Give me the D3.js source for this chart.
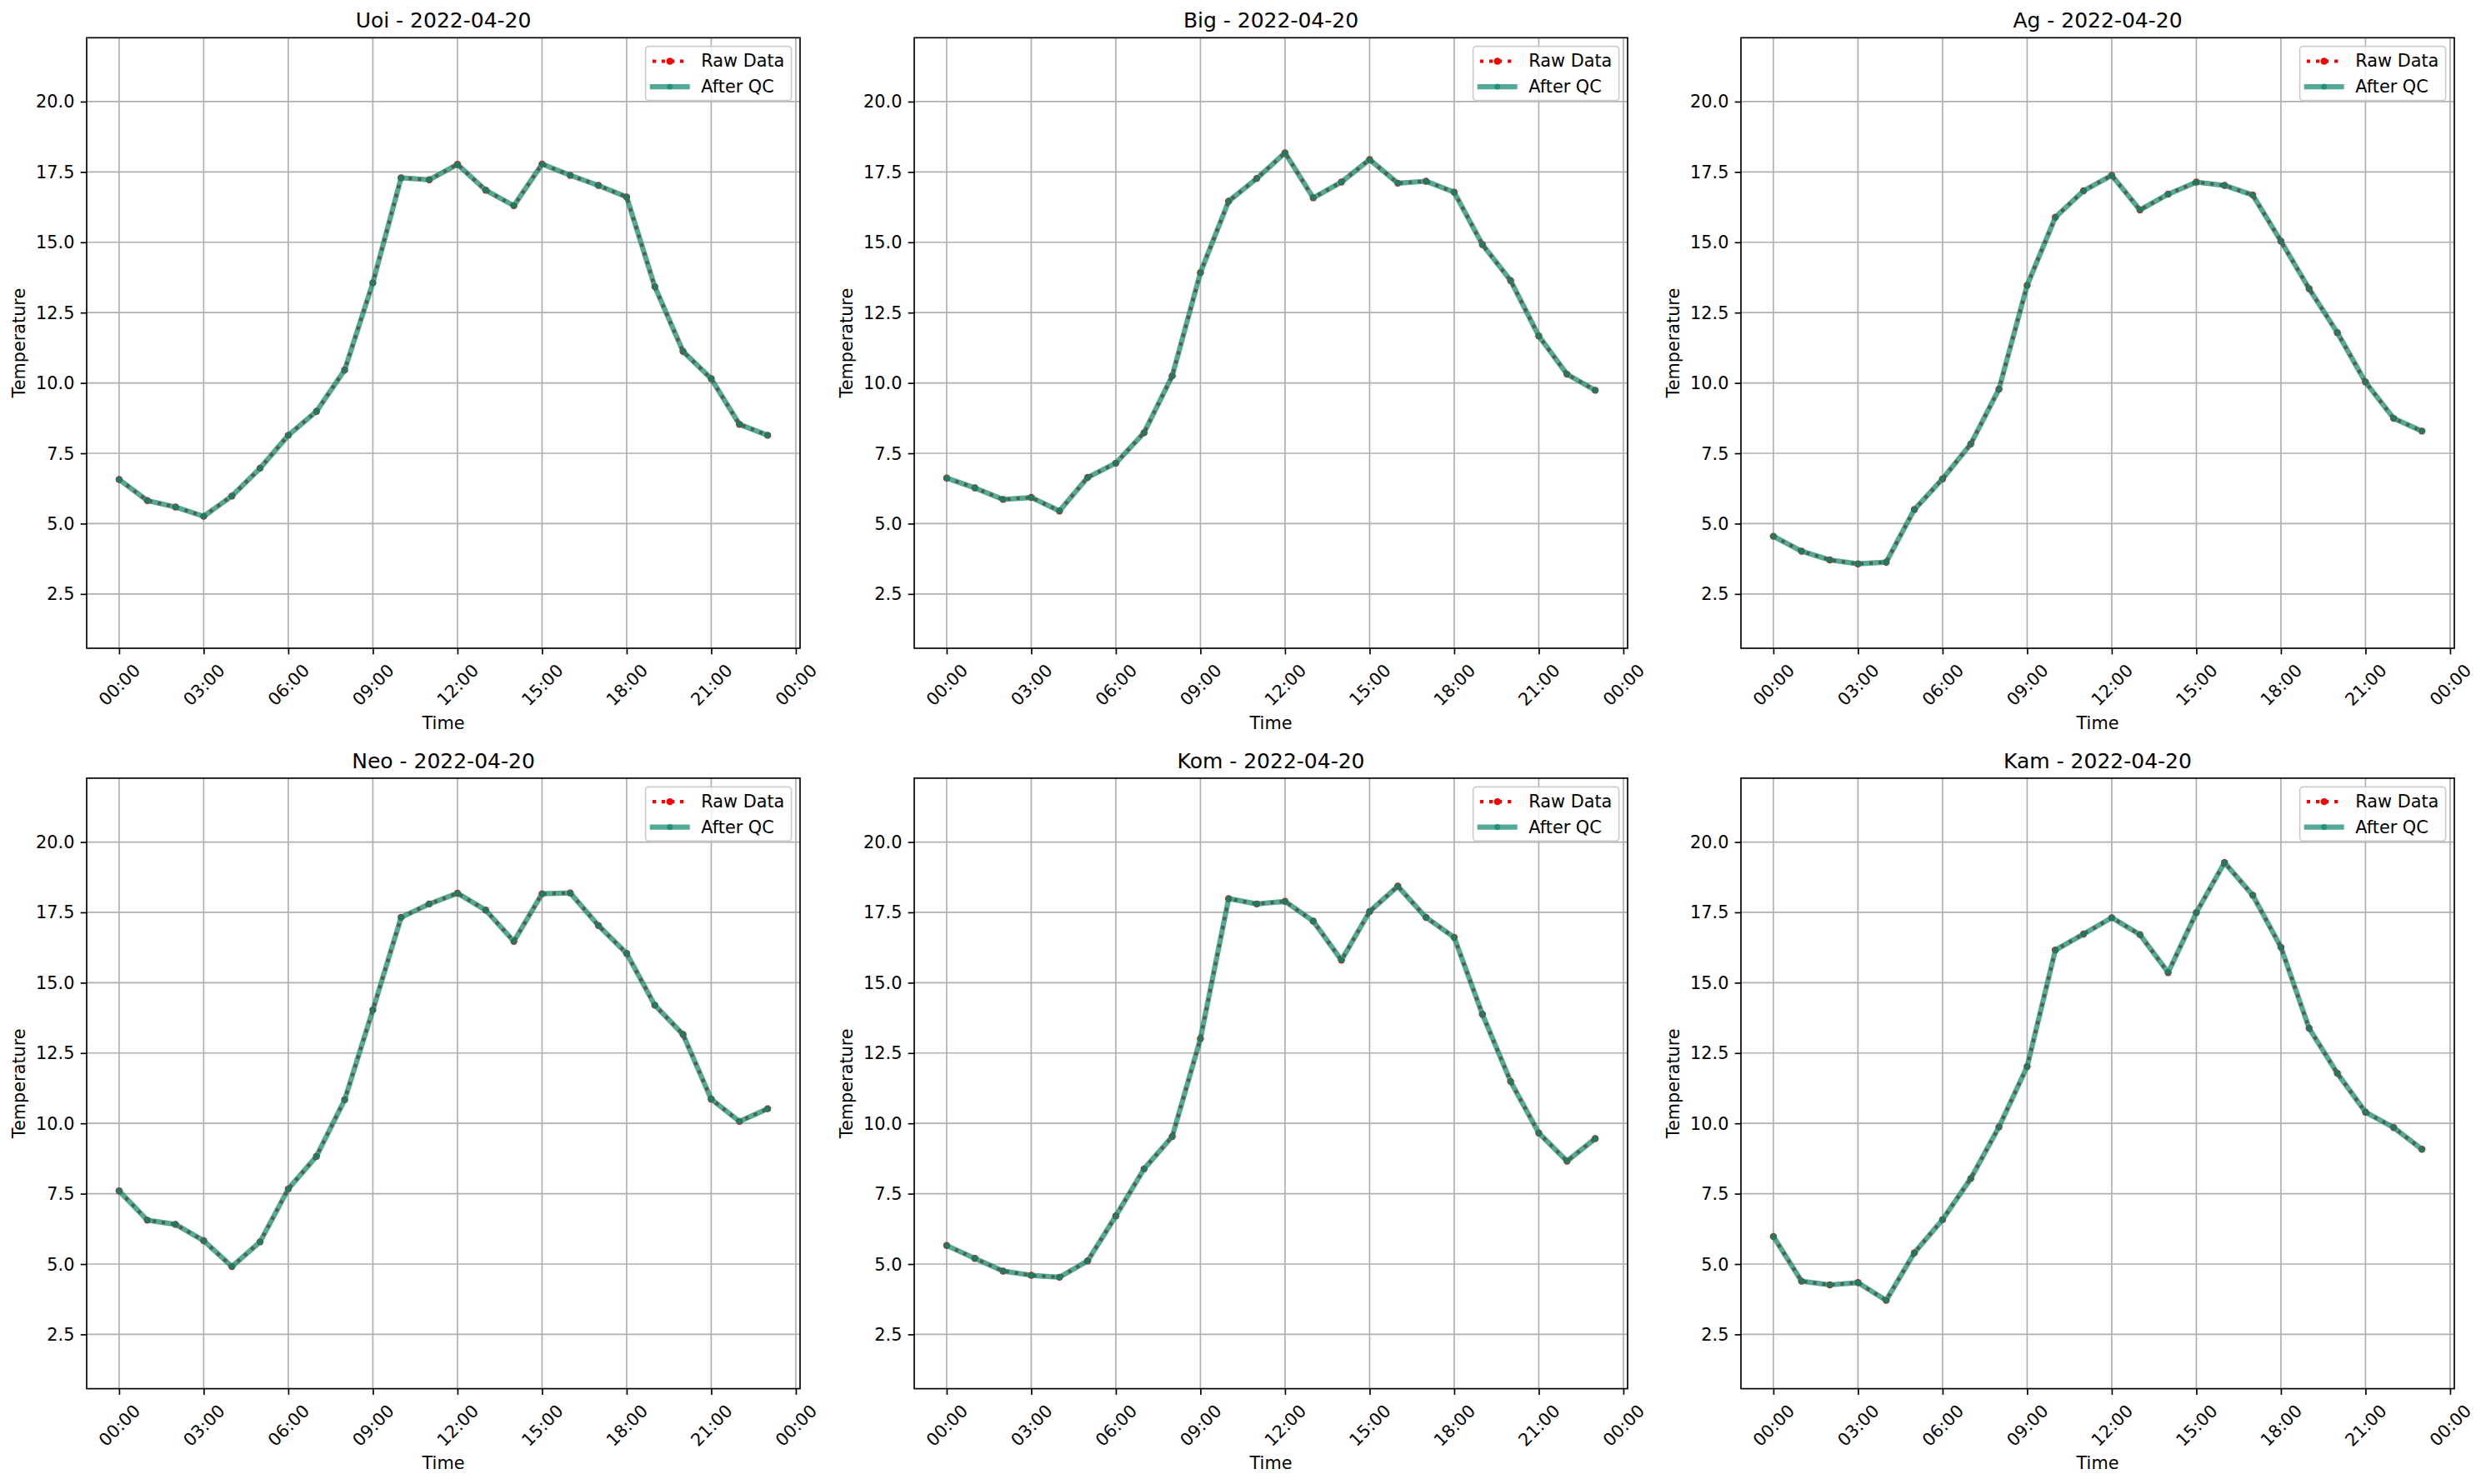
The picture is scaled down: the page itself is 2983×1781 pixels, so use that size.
<!DOCTYPE html>
<html>
<head>
<meta charset="utf-8">
<script src="https://cdn.jsdelivr.net/npm/d3@7"></script>
<style>
  html, body { margin: 0; padding: 0; background: #ffffff; }
  svg { display: block; }
  text { font-family: "DejaVu Sans", sans-serif; fill: #000; }
</style>
</head>
<body>
<div id="chart"></div>
<script>
// ---------------- DATA ----------------
const stations = ["Uoi", "Big", "Ag", "Neo", "Kom", "Kam"];
const dateLabel = "2022-04-20";
const hoursOfDay = [0,1,2,3,4,5,6,7,8,9,10,11,12,13,14,15,16,17,18,19,20,21,22,23];

const uoiRaw = [6.57,5.82,5.59,5.26,5.98,6.97,8.14,8.99,10.46,13.56,17.29,17.22,17.77,16.85,16.30,17.78,17.38,17.02,16.61,13.42,11.12,10.15,8.53,8.14];
const bigRaw = [6.62,6.27,5.86,5.93,5.45,6.64,7.15,8.23,10.25,13.92,16.46,17.27,18.18,16.58,17.14,17.94,17.10,17.17,16.78,14.92,13.64,11.67,10.31,9.74];
const agRaw  = [4.55,4.02,3.71,3.57,3.63,5.50,6.59,7.83,9.78,13.47,15.89,16.83,17.38,16.15,16.71,17.14,17.02,16.68,15.04,13.35,11.79,10.03,8.74,8.29];
const neoRaw = [7.60,6.56,6.41,5.83,4.91,5.79,7.67,8.83,10.84,14.03,17.32,17.80,18.18,17.58,16.47,18.16,18.19,17.03,16.04,14.20,13.16,10.86,10.07,10.52];
const komRaw = [5.66,5.20,4.75,4.60,4.53,5.11,6.71,8.38,9.53,13.01,17.99,17.80,17.89,17.19,15.80,17.53,18.43,17.32,16.61,13.88,11.49,9.66,8.66,9.46];
const kamRaw = [5.98,4.39,4.26,4.34,3.71,5.40,6.58,8.04,9.87,12.02,16.16,16.73,17.31,16.71,15.36,17.49,19.27,18.11,16.26,13.38,11.78,10.40,9.85,9.08];

// After QC values (identical to the raw values in this figure)
const uoiQC = uoiRaw.slice();
const bigQC = bigRaw.slice();
const agQC  = agRaw.slice();
const neoQC = neoRaw.slice();
const komQC = komRaw.slice();
const kamQC = kamRaw.slice();

const rawSeries = [uoiRaw, bigRaw, agRaw, neoRaw, komRaw, kamRaw];
const qcSeries  = [uoiQC, bigQC, agQC, neoQC, komQC, kamQC];

const yTickValues = [2.5, 5.0, 7.5, 10.0, 12.5, 15.0, 17.5, 20.0];
const legendLabels = ["Raw Data", "After QC"];
const xLabel = "Time";
const yLabel = "Temperature";

// ---------------- LAYOUT ----------------
const W = 2983, H = 1781;
const colLeft = [104, 1097, 2089];
const rowTop = [45.3, 933.9];
const pw = 856, ph = 732.7;

const RED = "#ff0000";
const GREEN = "#0a8769";
const GRID = "#b0b0b0";

const svg = d3.select("#chart").append("svg")
  .attr("width", W).attr("height", H)
  .attr("viewBox", `0 0 ${W} ${H}`);
svg.append("rect").attr("width", W).attr("height", H).attr("fill", "#fff");

// shared y domain: data range padded by 3 units
const allVals = rawSeries.flat().concat(qcSeries.flat());
const yMin = d3.min(allVals) - 3, yMax = d3.max(allVals) + 3;

const base = Date.UTC(2022, 3, 20, 0, 0, 0);
const hourMs = 3600 * 1000;
const toDate = h => new Date(base + h * hourMs);
const fmtTime = d3.utcFormat("%H:%M");

stations.forEach((name, i) => {
  const col = i % 3, row = Math.floor(i / 3);
  const left = colLeft[col], top = rowTop[row];
  const g = svg.append("g").attr("transform", `translate(${left},${top})`);

  const x = d3.scaleUtc()
    .domain([toDate(-1.15), toDate(24.15)])
    .range([0, pw]);
  const y = d3.scaleLinear().domain([yMin, yMax]).range([ph, 0]);

  const xTicks = x.ticks(d3.utcHour.every(3));

  // grid
  const grid = g.append("g");
  xTicks.forEach(t => {
    grid.append("line")
      .attr("x1", x(t)).attr("x2", x(t)).attr("y1", 0).attr("y2", ph)
      .attr("stroke", GRID).attr("stroke-width", 1.67);
  });
  yTickValues.forEach(v => {
    grid.append("line")
      .attr("x1", 0).attr("x2", pw).attr("y1", y(v)).attr("y2", y(v))
      .attr("stroke", GRID).attr("stroke-width", 1.67);
  });

  // x axis
  const xAxis = g.append("g").attr("transform", `translate(0,${ph})`)
    .call(d3.axisBottom(x).tickValues(xTicks).tickFormat(fmtTime).tickSize(7.3).tickPadding(7.3));
  xAxis.select(".domain").remove();
  xAxis.selectAll(".tick line").attr("stroke", "#000").attr("stroke-width", 1.67);
  xAxis.selectAll(".tick text")
    .attr("font-size", 20.8)
    .attr("font-family", "DejaVu Sans")
    .attr("text-anchor", "middle")
    .attr("dominant-baseline", "central")
    .attr("dy", null)
    .attr("y", 0)
    .attr("transform", "translate(0,44.2) rotate(-45)");

  // y axis
  const yAxis = g.append("g")
    .call(d3.axisLeft(y).tickValues(yTickValues).tickFormat(d3.format(".1f")).tickSize(7.3).tickPadding(7.3));
  yAxis.select(".domain").remove();
  yAxis.selectAll(".tick line").attr("stroke", "#000").attr("stroke-width", 1.67);
  yAxis.selectAll(".tick text")
    .attr("font-size", 20.8)
    .attr("font-family", "DejaVu Sans")
    .attr("dy", null)
    .attr("dominant-baseline", "central");

  // data
  const raw = rawSeries[i], qc = qcSeries[i];
  const line = d3.line().x((d, k) => x(toDate(hoursOfDay[k]))).y(d => y(d));

  const clipId = "clip" + i;
  g.append("clipPath").attr("id", clipId)
    .append("rect").attr("width", pw).attr("height", ph);
  const plot = g.append("g").attr("clip-path", `url(#${clipId})`);

  plot.append("path").datum(raw)
    .attr("d", line)
    .attr("fill", "none")
    .attr("stroke", RED)
    .attr("stroke-width", 4.17)
    .attr("stroke-dasharray", "4.17,6.88")
    .attr("stroke-linejoin", "round")
    .attr("stroke-linecap", "butt");
  plot.selectAll(".rawpt").data(raw).enter().append("circle")
    .attr("cx", (d, k) => x(toDate(hoursOfDay[k])))
    .attr("cy", d => y(d))
    .attr("r", 4.2)
    .attr("fill", RED);

  plot.append("path").datum(qc)
    .attr("d", line)
    .attr("fill", "none")
    .attr("stroke", GREEN)
    .attr("stroke-opacity", 0.7)
    .attr("stroke-width", 6.25)
    .attr("stroke-linejoin", "round")
    .attr("stroke-linecap", "square");
  plot.selectAll(".qcpt").data(qc).enter().append("circle")
    .attr("cx", (d, k) => x(toDate(hoursOfDay[k])))
    .attr("cy", d => y(d))
    .attr("r", 3.6)
    .attr("fill", GREEN)
    .attr("fill-opacity", 0.7);

  // spines
  g.append("rect").attr("x", 0).attr("y", 0).attr("width", pw).attr("height", ph)
    .attr("fill", "none").attr("stroke", "#000").attr("stroke-width", 1.67);

  // title
  g.append("text")
    .attr("x", pw / 2).attr("y", -12.3)
    .attr("text-anchor", "middle")
    .attr("font-size", 25)
    .text(`${name} - ${dateLabel}`);

  // axis labels
  g.append("text")
    .attr("x", pw / 2).attr("y", ph + 96.6)
    .attr("text-anchor", "middle")
    .attr("font-size", 20.8)
    .text(xLabel);
  g.append("text")
    .attr("transform", `translate(-81.5,${ph / 2}) rotate(-90)`)
    .attr("text-anchor", "middle")
    .attr("dominant-baseline", "central")
    .attr("font-size", 20.8)
    .text(yLabel);

  // legend
  const lg = g.append("g");
  const texts = legendLabels.map(l => lg.append("text").attr("font-size", 20.8).attr("dominant-baseline", "central").text(l));
  const tw = d3.max(texts, t => t.node().getComputedTextLength());
  const pad = 8.3, hl = 41.7, htp = 16.7;
  const bw = pad + hl + htp + tw + pad, bh = 65;
  const bx = pw - 10.4 - bw, by = 10.4;
  lg.insert("rect", "text")
    .attr("x", bx).attr("y", by).attr("width", bw).attr("height", bh)
    .attr("rx", 4).attr("ry", 4)
    .attr("fill", "#fff").attr("fill-opacity", 0.8)
    .attr("stroke", "#cccccc").attr("stroke-width", 1.67);
  const rowsY = [by + 17.8, by + 48.3];
  const hx0 = bx + pad, hx1 = bx + pad + hl;
  texts.forEach((t, k) => t.attr("x", hx1 + htp).attr("y", rowsY[k]));
  lg.append("line").attr("x1", hx0).attr("x2", hx1).attr("y1", rowsY[0]).attr("y2", rowsY[0])
    .attr("stroke", RED).attr("stroke-width", 4.17).attr("stroke-dasharray", "4.17,6.88");
  lg.append("circle").attr("cx", (hx0 + hx1) / 2).attr("cy", rowsY[0]).attr("r", 4.2).attr("fill", RED);
  lg.append("line").attr("x1", hx0).attr("x2", hx1).attr("y1", rowsY[1]).attr("y2", rowsY[1])
    .attr("stroke", GREEN).attr("stroke-opacity", 0.7).attr("stroke-width", 6.25).attr("stroke-linecap", "square");
  lg.append("circle").attr("cx", (hx0 + hx1) / 2).attr("cy", rowsY[1]).attr("r", 3.6)
    .attr("fill", GREEN).attr("fill-opacity", 0.7);
});
</script>
</body>
</html>
